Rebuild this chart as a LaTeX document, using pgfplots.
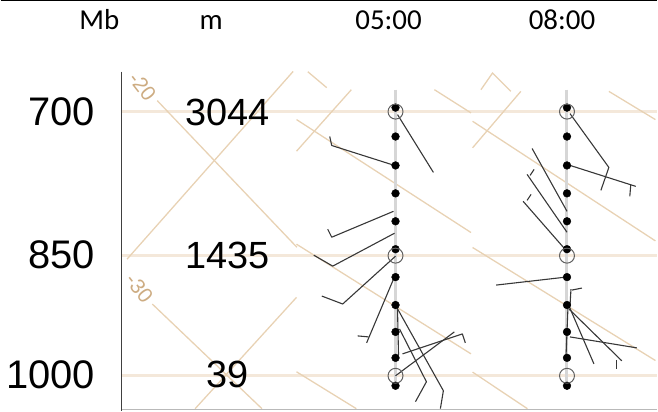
\documentclass[border=0pt]{standalone}
\usepackage{fontspec}
\setmainfont{Liberation Sans}
\newfontfamily\hdfont{Carlito}
\usepackage{pgfplots}
\pgfplotsset{compat=1.18}

\definecolor{isoline}{RGB}{232,210,180}
\definecolor{plevel}{RGB}{244,232,218}
\definecolor{isolabel}{RGB}{205,172,130}
\definecolor{colgray}{RGB}{214,214,214}
\definecolor{barbcol}{RGB}{55,55,55}
\definecolor{ringcol}{RGB}{95,95,95}

\pgfplotsset{
  iso/.style={isoline, line width=1.3pt, no marks},
  barb/.style={barbcol, line width=1.1pt, no marks, line join=round},
}

\begin{document}
\begin{tikzpicture}
\begin{axis}[
    scale only axis,
    width=658pt, height=412pt,
    xmin=0, xmax=658, ymin=0, ymax=412,
    y dir=reverse,
    hide axis,
    clip=false,
]

% pressure levels 700 / 850 / 1000
\addplot[plevel, line width=2.6pt, no marks] coordinates {(122,112) (658,112)};
\addplot[plevel, line width=2.6pt, no marks] coordinates {(122,256.5) (658,256.5)};
\addplot[plevel, line width=2.6pt, no marks] coordinates {(122,377) (658,377)};

% left block of isolines
\addplot[iso] coordinates {(157,101) (297,248)};
\addplot[iso] coordinates {(126.7,260) (293.3,71.7)};
\addplot[iso] coordinates {(152,305) (262,410)};
\addplot[iso] coordinates {(195,410) (296.7,298.3)};

% 05:00 block
\addplot[iso] coordinates {(296.7,151.7) (351.7,90)};
\addplot[iso] coordinates {(296.7,120) (471.7,233.3)};
\addplot[iso] coordinates {(435,90) (471.7,113.3)};
\addplot[iso] coordinates {(308,72) (327,88)};
\addplot[iso] coordinates {(296.7,245) (471.7,355)};
\addplot[iso] coordinates {(296.7,373) (356.7,410)};

% 08:00 block
\addplot[iso] coordinates {(473.3,148.3) (521.7,91.7)};
\addplot[iso] coordinates {(473.3,121.7) (656.7,241.7)};
\addplot[iso] coordinates {(610,91.7) (656.7,120)};
\addplot[iso] coordinates {(481.7,90) (493.3,73.3) (511.7,91.7)};
\addplot[iso] coordinates {(473.3,248.3) (656.7,361.7)};
\addplot[iso] coordinates {(473.3,373.3) (528.3,410)};

\node[isolabel, font=\fontsize{21}{21}\selectfont, rotate=-52, inner sep=0pt] at (axis cs:142,87) {-20};
\node[isolabel, font=\fontsize{21}{21}\selectfont, rotate=-52, inner sep=0pt] at (axis cs:139,289) {-30};

% frame lines
\addplot[black, line width=1.5pt, no marks] coordinates {(0,0.8) (658,0.8)};
\addplot[gray!55, line width=1.4pt, no marks] coordinates {(121,410.8) (658,410.8)};
\addplot[black!75, line width=1.5pt, no marks] coordinates {(121,72) (121,412)};

% time columns
\addplot[colgray, line width=3pt, no marks] coordinates {(396,90) (396,390)};
\addplot[colgray, line width=3pt, no marks] coordinates {(568,90) (568,390)};

% 05:00 barbs
\addplot[barb] coordinates {(398,115) (434,173)};
\addplot[barb] coordinates {(395,166) (332,146) (330,137)};
\addplot[barb] coordinates {(394,212) (332,238) (328,230)};
\addplot[barb] coordinates {(395,234) (333,267) (314,256)};
\addplot[barb] coordinates {(396,257) (343,305) (322,297)};
\addplot[barb] coordinates {(394,280) (367,344)};
\addplot[barb] coordinates {(369,338) (358,337)};
\addplot[barb] coordinates {(397,308) (444,392) (441,410)};
\addplot[barb] coordinates {(400,330) (427,383) (416,403)};
\addplot[barb] coordinates {(396,377) (455,333)};
\addplot[barb] coordinates {(403,355) (463,335) (466,344)};
\addplot[barb] coordinates {(398,310) (399,356)};

% 08:00 barbs
\addplot[barb] coordinates {(571,114) (610,168) (602,191)};
\addplot[barb] coordinates {(568,165) (637,187)};
\addplot[barb] coordinates {(632,185) (631,197)};
\addplot[barb] coordinates {(568,212) (533,149)};
\addplot[barb] coordinates {(568,233) (528,175)};
\addplot[barb] coordinates {(531,176) (535,170)};
\addplot[barb] coordinates {(566,250) (524,202)};
\addplot[barb] coordinates {(528,201) (532,195)};
\addplot[barb] coordinates {(567,278) (497,286)};
\addplot[barb] coordinates {(571,307) (572,290)};
\addplot[barb] coordinates {(573,291) (583,289)};
\addplot[barb] coordinates {(570,307) (595,365)};
\addplot[barb] coordinates {(570,310) (623,362)};
\addplot[barb] coordinates {(618,361) (618,370)};
\addplot[barb] coordinates {(571,338) (638,349)};
\addplot[barb] coordinates {(569,308) (567,358)};

% level dots
\addplot[only marks, mark=*, mark size=3.9pt, black] coordinates {
  (396,108) (396,137) (396,166) (396,194) (396,222) (396,250)
  (396,278) (396,306) (396,333) (396,359) (396,387)
};
\addplot[only marks, mark=*, mark size=3.9pt, black] coordinates {
  (568,108) (568,137) (568,166) (568,194) (568,222) (568,250)
  (568,278) (568,306) (568,333) (568,359) (568,387)
};
% standard level rings
\addplot[only marks, mark=o, mark size=7.5pt, ringcol, mark options={line width=1pt}] coordinates {
  (396,112) (396,256.5) (396,377) (568,112) (568,256.5) (568,377)
};

% header
\node[font=\hdfont\fontsize{29}{29}\selectfont, anchor=base, inner sep=0pt] at (axis cs:99,29.5) {Mb};
\node[font=\hdfont\fontsize{29}{29}\selectfont, anchor=base, inner sep=0pt] at (axis cs:211,29.5) {m};
\node[font=\hdfont\fontsize{29}{29}\selectfont, anchor=base, inner sep=0pt] at (axis cs:389,29.5) {05:00};
\node[font=\hdfont\fontsize{29}{29}\selectfont, anchor=base, inner sep=0pt] at (axis cs:563,29.5) {08:00};

% pressure and height labels
\node[font=\fontsize{40}{40}\selectfont, anchor=base east, inner sep=0pt] at (axis cs:94.5,126) {700};
\node[font=\fontsize{40}{40}\selectfont, anchor=base east, inner sep=0pt] at (axis cs:94.5,269.5) {850};
\node[font=\fontsize{40}{40}\selectfont, anchor=base east, inner sep=0pt] at (axis cs:94.5,389.5) {1000};
\node[font=\fontsize{38}{38}\selectfont, anchor=base, inner sep=0pt] at (axis cs:227.5,125.5) {3044};
\node[font=\fontsize{38}{38}\selectfont, anchor=base, inner sep=0pt] at (axis cs:227.5,269) {1435};
\node[font=\fontsize{38}{38}\selectfont, anchor=base, inner sep=0pt] at (axis cs:227.5,389) {39};

\end{axis}
\end{tikzpicture}
\end{document}
